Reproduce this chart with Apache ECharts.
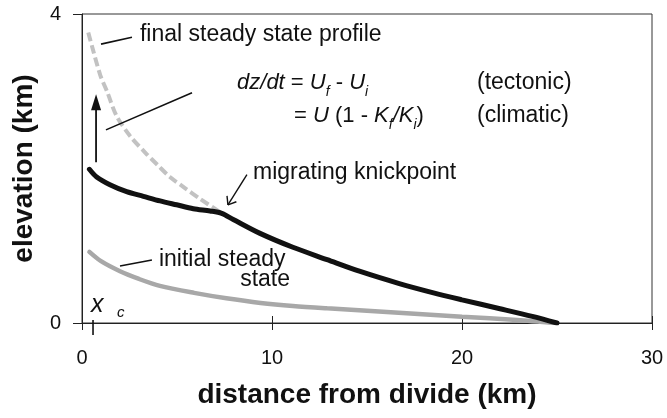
<!DOCTYPE html>
<html><head><meta charset="utf-8">
<script src="https://cdn.jsdelivr.net/npm/echarts@6/dist/echarts.min.js"></script>
<style>html,body{margin:0;padding:0;background:#fff}#c{width:667px;height:418px}</style>
</head><body><div id="c"></div>
<script>
// ---- data (km) ----
const xTicks = [0, 10, 20, 30];
const yTicks = [0, 4];
const distTransient = [0.39, 0.77, 1.47, 2.35, 3.23, 4.11, 4.98, 5.86, 6.74, 7.35, 7.96, 9.37, 11.1, 12.9, 14.6, 16.7, 18.5, 20.0, 22.0, 23.7, 25.0];
const elevTransient = [1.99, 1.89, 1.79, 1.70, 1.64, 1.58, 1.53, 1.48, 1.45, 1.42, 1.34, 1.16, 0.98, 0.82, 0.67, 0.51, 0.39, 0.30, 0.185, 0.085, 0.0];
const distInitial = [0.39, 1.0, 2.0, 3.0, 4.1, 5.9, 7.6, 9.4, 11.1, 12.9, 15.0, 17.5, 20.0, 22.9, 24.9];
const elevInitial = [0.92, 0.80, 0.67, 0.57, 0.48, 0.39, 0.32, 0.26, 0.22, 0.19, 0.16, 0.12, 0.08, 0.04, 0.0];
const distFinal = [0.33, 0.53, 0.96, 1.33, 1.82, 2.53, 3.35, 4.0, 4.63, 5.4, 6.2, 7.35];
const elevFinal = [3.76, 3.58, 3.21, 2.99, 2.68, 2.42, 2.20, 2.04, 1.89, 1.75, 1.61, 1.42];
const xcPos = 0.58;

// annotation anchors in data units
const labels = [
  {text: 'final steady state profile', at: [3.05, 3.735], align: 'left'},
  {text: 'migrating knickpoint', at: [9.0, 1.948], align: 'left'},
  {text: 'initial steady', at: [4.05, 0.822], align: 'left'},
  {text: 'state', at: [10.95, 0.563], align: 'right'},
  {text: '(tectonic)', at: [20.79, 3.113], align: 'left'},
  {text: '(climatic)', at: [20.79, 2.686], align: 'left'}
];
const eqLines = [
  {text: '{i|dz/dt} = {i|U}{s|f} - {i|U}{s|i}', at: [8.16, 3.113]},
  {text: '= {i|U} (1 - {i|K}{s|f}{i|/K}{s|i})', at: [11.16, 2.686]}
];
const leaders = [
  [[1.0, 3.61], [2.63, 3.70]],
  [[1.26, 2.50], [5.79, 2.98]],
  [[2.0, 0.738], [3.68, 0.816]]
];
const upArrow = [[0.74, 2.08], [0.74, 2.96]];
const knickArrow = [[8.68, 1.92], [7.68, 1.53]];

const FONT = "'Liberation Sans', Arial, Helvetica, sans-serif";
const pair = (xs, ys) => xs.map((x, i) => [x, ys[i]]);

const chart = echarts.init(document.getElementById('c'));
chart.setOption({
  animation: false,
  backgroundColor: '#fff',
  grid: {left: 82, right: 15, top: 14, bottom: 95, show: true, borderColor: '#333', borderWidth: 1},
  xAxis: [{
    type: 'value', min: xTicks[0], max: xTicks[xTicks.length - 1], interval: xTicks[1] - xTicks[0],
    axisLine: {show: true, lineStyle: {color: '#222', width: 1}},
    axisTick: {show: true, length: 7, lineStyle: {color: '#222', width: 1}},
    axisLabel: {fontSize: 20, color: '#111', margin: 25, fontFamily: FONT},
    splitLine: {show: false},
    name: 'distance from divide (km)', nameLocation: 'middle', nameGap: 58,
    nameTextStyle: {fontSize: 28, fontWeight: 'bold', color: '#111', fontFamily: FONT}
  }, {
    type: 'value', min: xTicks[0], max: xTicks[xTicks.length - 1], interval: xTicks[1] - xTicks[0],
    position: 'bottom', offset: 0,
    axisLine: {show: false},
    axisTick: {show: true, inside: true, length: 7, lineStyle: {color: '#222', width: 1}},
    axisLabel: {show: false}, splitLine: {show: false}
  }],
  yAxis: [{
    type: 'value', min: yTicks[0], max: yTicks[1], interval: yTicks[1] - yTicks[0],
    axisLine: {show: true, lineStyle: {color: '#222', width: 1}},
    axisTick: {show: true, length: 9, lineStyle: {color: '#222', width: 1}},
    axisLabel: {fontSize: 20, color: '#111', margin: 21, fontFamily: FONT},
    splitLine: {show: false},
    name: 'elevation (km)', nameLocation: 'middle', nameGap: 44,
    nameTextStyle: {fontSize: 28, fontWeight: 'bold', color: '#111', fontFamily: FONT}
  }],
  series: [{
    type: 'line', data: pair(distInitial, elevInitial), showSymbol: false, smooth: 0.3, z: 2,
    lineStyle: {color: '#a8a8a8', width: 4.5, cap: 'round'}
  }, {
    type: 'line', data: pair(distFinal, elevFinal), showSymbol: false, smooth: 0.3, z: 2,
    lineStyle: {color: '#c2c2c2', width: 4, type: [9, 4]}
  }, {
    type: 'line', data: pair(distTransient, elevTransient), showSymbol: false, smooth: 0.3, z: 3,
    lineStyle: {color: '#111', width: 5, cap: 'round'}
  }]
});

const P = (p) => chart.convertToPixel({xAxisIndex: 0, yAxisIndex: 0}, p);
const g = [];
labels.forEach(l => {
  const [x, y] = P(l.at);
  g.push({type: 'text', z: 10, style: {text: l.text, x, y, fontSize: 23, fontFamily: FONT, fill: '#111',
    align: l.align, textAlign: l.align, verticalAlign: 'middle', textVerticalAlign: 'middle'}});
});
eqLines.forEach(l => {
  const [x, y] = P(l.at);
  g.push({type: 'text', z: 10, style: {text: l.text, x, y, fontSize: 22, fontFamily: FONT, fill: '#111', lineHeight: 34,
    align: 'left', textAlign: 'left', verticalAlign: 'middle', textVerticalAlign: 'middle',
    rich: {
      i: {fontSize: 22, fontStyle: 'italic', fontFamily: FONT, fill: '#111', lineHeight: 34},
      s: {fontSize: 14, fontStyle: 'italic', fontFamily: FONT, fill: '#111', verticalAlign: 'bottom', lineHeight: 34}
    }}});
});
leaders.forEach(([a, b]) => {
  const p1 = P(a), p2 = P(b);
  g.push({type: 'line', z: 10, shape: {x1: p1[0], y1: p1[1], x2: p2[0], y2: p2[1]}, style: {stroke: '#111', lineWidth: 1.6}});
});
// vertical arrow
{
  const s = P(upArrow[0]), t = P(upArrow[1]);
  g.push({type: 'line', z: 10, shape: {x1: s[0], y1: s[1], x2: t[0], y2: t[1] + 14}, style: {stroke: '#111', lineWidth: 1.8}});
  g.push({type: 'polygon', z: 10, shape: {points: [[t[0], t[1]], [t[0] - 5, t[1] + 16], [t[0] + 5, t[1] + 16]]}, style: {fill: '#111'}});
}
// knickpoint arrow (open head)
{
  const s = P(knickArrow[0]), t = P(knickArrow[1]);
  g.push({type: 'line', z: 10, shape: {x1: s[0], y1: s[1], x2: t[0], y2: t[1]}, style: {stroke: '#111', lineWidth: 1.4}});
  const dx = s[0] - t[0], dy = s[1] - t[1], L = Math.hypot(dx, dy);
  const ux = dx / L, uy = dy / L, a = 38 * Math.PI / 180, len = 9;
  [a, -a].forEach(ang => {
    const rx = ux * Math.cos(ang) - uy * Math.sin(ang), ry = ux * Math.sin(ang) + uy * Math.cos(ang);
    g.push({type: 'line', z: 10, shape: {x1: t[0], y1: t[1], x2: t[0] + rx * len, y2: t[1] + ry * len}, style: {stroke: '#111', lineWidth: 1.4}});
  });
}
// x_c tick and label
{
  const top = P([xcPos, 0.04]), bot = P([xcPos, -0.155]);
  g.push({type: 'line', z: 10, shape: {x1: top[0], y1: top[1], x2: bot[0], y2: bot[1]}, style: {stroke: '#111', lineWidth: 1.6}});
  const px = P([0.47, 0.233]);
  g.push({type: 'text', z: 10, style: {text: 'x', x: px[0], y: px[1], fontSize: 25, fontStyle: 'italic', fontFamily: FONT, fill: '#111', align: 'left', textAlign: 'left', verticalAlign: 'middle', textVerticalAlign: 'middle'}});
  const pc = P([1.84, 0.129]);
  g.push({type: 'text', z: 10, style: {text: 'c', x: pc[0], y: pc[1], fontSize: 15, fontStyle: 'italic', fontFamily: FONT, fill: '#111', align: 'left', textAlign: 'left', verticalAlign: 'middle', textVerticalAlign: 'middle'}});
}
chart.setOption({graphic: g});
</script>
</body></html>
